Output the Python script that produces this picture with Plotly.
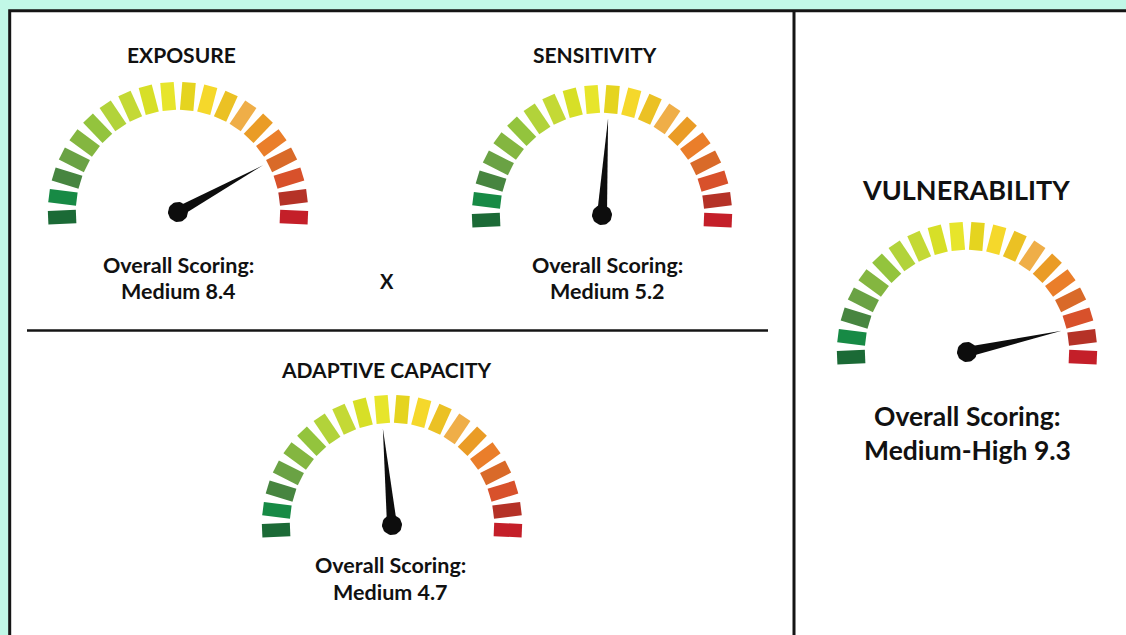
import math
import plotly.graph_objects as go

# ---- data ----
gauge_names = ["EXPOSURE", "SENSITIVITY", "ADAPTIVE CAPACITY", "VULNERABILITY"]
score_levels = ["Medium", "Medium", "Medium", "Medium-High"]
scores = [8.4, 5.2, 4.7, 9.3]
scale_min = 0
scale_max = 10
segment_colors = [
    "#1b6a36", "#178a45", "#478540", "#6aa244", "#84b640",
    "#93c43d", "#b2d33a", "#c4d935", "#d7df27", "#e7e52b",
    "#e5d41f", "#f5d82b", "#ebc124", "#efae48", "#ea9c26",
    "#ea7e2a", "#d96a29", "#d8512b", "#b53227", "#c41f29",
]

# ---- layout (pixel space) ----
W, H = 1126, 635
centers = [(178, 212), (602, 215), (392, 525), (967, 352)]
title_pos = [(181, 54, 21), (595, 54, 21), (386, 369, 21), (966, 189, 27)]
label_pos = [(178, 265, 291, 21.5), (607, 265, 291, 21.5), (390, 565, 592, 21.5), (967, 416, 450, 26.5)]
R_IN, R_OUT, SEG_W = 102, 130, 13.5
NEEDLE_LEN, NEEDLE_HALF, HUB_R = 97, 5.0, 10
ANG_START, ANG_END = 182.5, -2.5
FONT = "Lato, 'Open Sans', sans-serif"

fig = go.Figure()

def add_poly(xs, ys, color):
    fig.add_trace(go.Scatter(
        x=xs + [xs[0]], y=ys + [ys[0]], mode="lines", fill="toself",
        fillcolor=color, line=dict(width=0, color=color),
        hoverinfo="skip", showlegend=False))

n = len(segment_colors)
for gi, (cx, cy) in enumerate(centers):
    # segments
    for i, col in enumerate(segment_colors):
        a = math.radians(ANG_START + (ANG_END - ANG_START) * i / (n - 1))
        ux, uy = math.cos(a), -math.sin(a)      # radial (y down)
        px, py = -uy, ux                          # tangential
        hw = SEG_W / 2
        pts = [
            (cx + ux * R_IN + px * hw, cy + uy * R_IN + py * hw),
            (cx + ux * R_OUT + px * hw, cy + uy * R_OUT + py * hw),
            (cx + ux * R_OUT - px * hw, cy + uy * R_OUT - py * hw),
            (cx + ux * R_IN - px * hw, cy + uy * R_IN - py * hw),
        ]
        add_poly([p[0] for p in pts], [p[1] for p in pts], col)
    # needle
    frac = (scores[gi] - scale_min) / (scale_max - scale_min)
    a = math.radians(180 - 180 * frac)
    ux, uy = math.cos(a), -math.sin(a)
    px, py = -uy, ux
    xs = [cx + px * NEEDLE_HALF, cx + ux * NEEDLE_LEN, cx - px * NEEDLE_HALF]
    ys = [cy + py * NEEDLE_HALF, cy + uy * NEEDLE_LEN, cy - py * NEEDLE_HALF]
    add_poly(xs, ys, "#0d0d0d")
    # hub
    hx = [cx + HUB_R * math.cos(2 * math.pi * k / 40) for k in range(40)]
    hy = [cy + HUB_R * math.sin(2 * math.pi * k / 40) for k in range(40)]
    add_poly(hx, hy, "#0d0d0d")

annotations = []
for gi in range(4):
    tx, ty, ts = title_pos[gi]
    annotations.append(dict(x=tx, y=ty, text="<b>%s</b>" % gauge_names[gi],
                            font=dict(family=FONT, size=ts, color="#111111")))
    lx, ly1, ly2, ls = label_pos[gi]
    annotations.append(dict(x=lx, y=ly1, text="<b>Overall Scoring:</b>",
                            font=dict(family=FONT, size=ls, color="#111111")))
    annotations.append(dict(x=lx, y=ly2, text="<b>%s %.1f</b>" % (score_levels[gi], scores[gi]),
                            font=dict(family=FONT, size=ls, color="#111111")))
annotations.append(dict(x=387, y=281, text="<b>X</b>",
                        font=dict(family=FONT, size=20, color="#111111")))
for an in annotations:
    an.update(xref="x", yref="y", showarrow=False, xanchor="center", yanchor="middle")

shapes = [
    dict(type="rect", xref="x", yref="y", x0=9.7, y0=10.8, x1=1140, y1=650,
         fillcolor="white", line=dict(color="#151515", width=3), layer="below"),
    dict(type="line", xref="x", yref="y", x0=794, y0=10.8, x1=794, y1=650,
         line=dict(color="#151515", width=3)),
    dict(type="line", xref="x", yref="y", x0=27, y0=330.5, x1=768, y1=330.5,
         line=dict(color="#151515", width=2.5)),
]

fig.update_layout(
    width=W, height=H, margin=dict(l=0, r=0, t=0, b=0),
    paper_bgcolor="#c1f8e7", plot_bgcolor="rgba(0,0,0,0)",
    xaxis=dict(range=[0, W], visible=False, fixedrange=True),
    yaxis=dict(range=[H, 0], visible=False, fixedrange=True),
    annotations=annotations, shapes=shapes, showlegend=False,
)

fig.write_html(
    "out.html",
    config={"displayModeBar": False},
    post_script="document.body.style.margin='0px';document.body.style.overflow='hidden';",
)
